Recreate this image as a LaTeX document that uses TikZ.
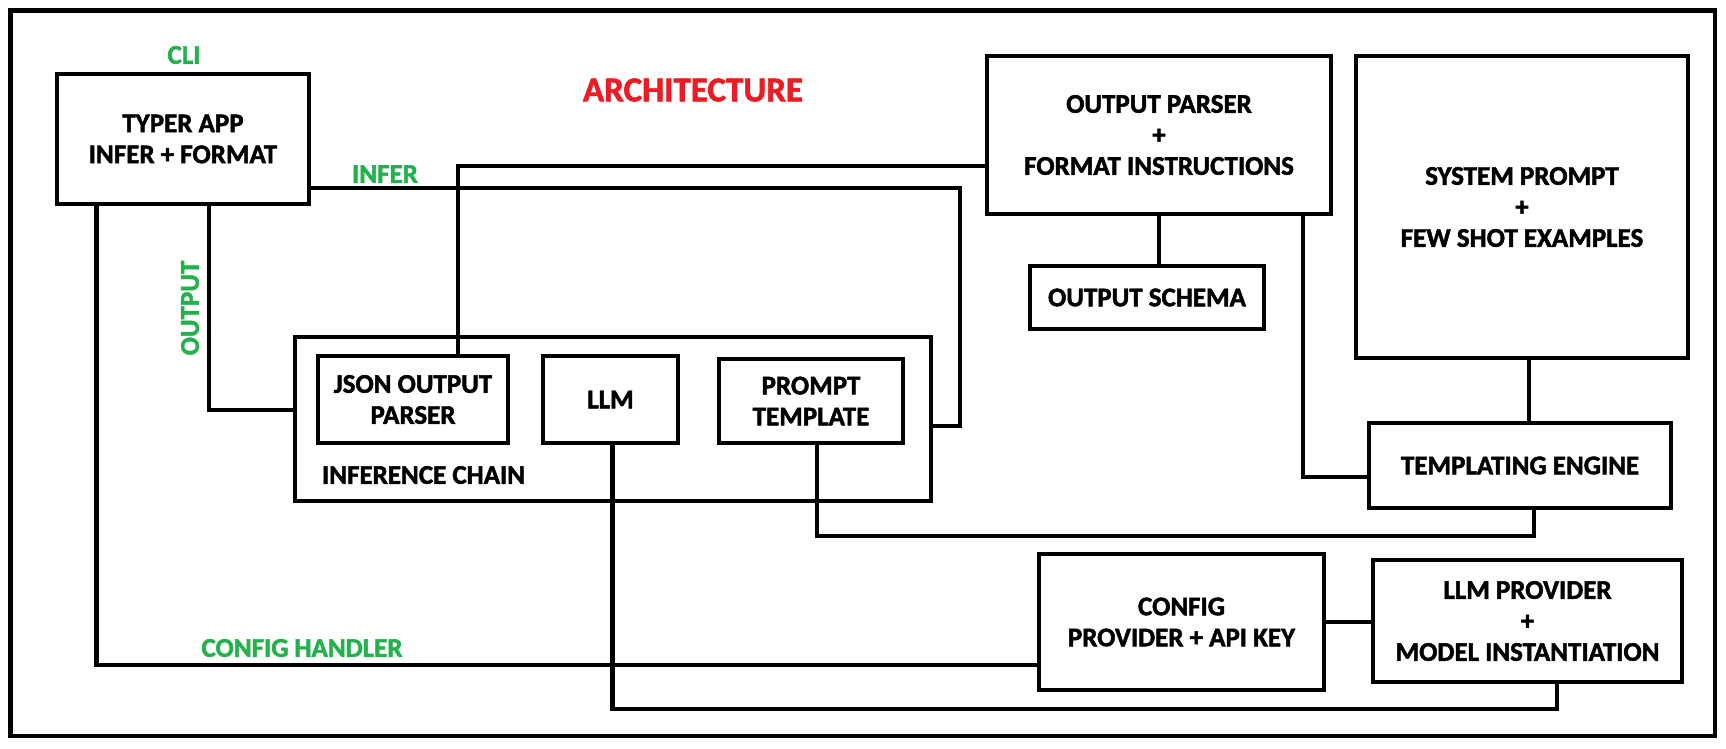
\documentclass[tikz,border=0pt]{standalone}
\usepackage{fontspec}
\setmainfont{Carlito}[BoldFeatures={FakeBold=1.8}]
\usepackage{xcolor}
\usepackage{tikz}
\usetikzlibrary{positioning}
\definecolor{paintgreen}{HTML}{22B14C}
\definecolor{paintred}{HTML}{ED1C24}

\begin{document}
\begin{tikzpicture}[x=1pt,y=-1pt,line width=4.2pt,
  box/.style={draw,rectangle,inner sep=0pt,align=center,font=\bfseries\fontsize{27}{31}\selectfont},
  tag/.style={text=paintgreen,inner sep=0pt,font=\bfseries\fontsize{27}{31}\selectfont}]
  \useasboundingbox (0,0) rectangle (1726,748);
  \draw (10.5,10.5) rectangle (1715,736);

  \node[box,minimum width=252pt,minimum height=130pt] (typer) at (183,139) {TYPER APP\\INFER + FORMAT};
   \node[tag] (cli) at (184,55) {CLI};
   \node[text=paintred,inner sep=0pt,font=\bfseries\fontsize{35}{40}\selectfont] (title) at (693,90) {ARCHITECTURE};
   \node[box,minimum width=344pt,minimum height=158pt] (outparser) at (1159,135) {OUTPUT PARSER\\+\\FORMAT INSTRUCTIONS};
   \node[box,minimum width=332pt,minimum height=302pt] (sysprompt) at (1522,207) {SYSTEM PROMPT\\+\\FEW SHOT EXAMPLES};
   \node[box,minimum width=234pt,minimum height=63pt] (schema) at (1147,297.5) {OUTPUT SCHEMA};
   \node[draw,rectangle,minimum width=636pt,minimum height=164pt] (chain) at (613,419) {};
   \node[box,minimum width=190pt,minimum height=87pt] (json) at (413,399.5) {JSON OUTPUT\\PARSER};
   \node[box,minimum width=135pt,minimum height=87pt] (llm) at (610.5,399.5) {LLM};
   \node[box,minimum width=184pt,minimum height=84pt] (prompt) at (811,401) {PROMPT\\TEMPLATE};
   \node[box,draw=none,anchor=west] (chainlbl) at (320,475) {INFERENCE CHAIN};
   \node[box,minimum width=302pt,minimum height=85pt] (engine) at (1520,465.5) {TEMPLATING ENGINE};
   \node[box,minimum width=285pt,minimum height=136pt] (config) at (1181.5,622) {CONFIG\\PROVIDER + API KEY};
   \node[box,minimum width=309pt,minimum height=122pt] (provider) at (1527.5,621) {LLM PROVIDER\\+\\MODEL INSTANTIATION};

   \coordinate (inferturn) at (960,188);
   \coordinate (jsonturn) at (458,166);
   \coordinate (outturn) at (209,410);
   \coordinate (cfgturn) at (96.5,665);
   \coordinate (llmturn) at (1557,709);
   \coordinate (promptturn) at (1534,536);
   \coordinate (engineturn) at (1303,477);

   \draw (typer.east |- inferturn) -- (inferturn) |- ([yshift=-7pt]chain.east);
   \draw (outparser.west |- jsonturn) -- (jsonturn) -- (jsonturn |- json.north);
   \draw (typer.south -| outturn) -- (outturn) -- (chain.west |- outturn);
   \draw (typer.south -| cfgturn) -- (cfgturn) -- (config.west |- cfgturn);
   \draw ([xshift=2pt]llm.south) |- (llmturn) -- (llmturn |- provider.south);
   \draw ([xshift=6pt]prompt.south) |- (promptturn) -- (promptturn |- engine.south);
   \draw (outparser.south) -- (schema.north -| outparser.south);
   \draw (outparser.south -| engineturn) -- (engineturn) -- (engine.west |- engineturn);
   \draw ([xshift=7pt]sysprompt.south) -- ([xshift=7pt]sysprompt.south |- engine.north);
   \draw (config.east) -- (provider.west |- config.east);

   \node[tag] (infer) at (385,174) {INFER};
   \node[tag,rotate=90] (output) at (190,308) {OUTPUT};
   \node[tag] (cfghandler) at (302,648) {CONFIG HANDLER};
 \end{tikzpicture}
\end{document}
